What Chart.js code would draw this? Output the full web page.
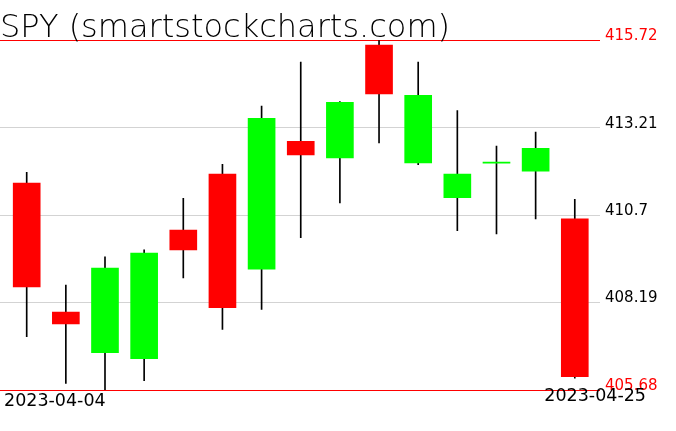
<!DOCTYPE html>
<html>
<head>
<meta charset="utf-8">
<script src="https://cdn.jsdelivr.net/npm/chart.js@4/dist/chart.umd.min.js"></script>
<style>
  html, body { margin: 0; padding: 0; background: #fff; }
  #wrap { width: 676px; height: 431px; }
</style>
</head>
<body>
<div id="wrap"><canvas id="chart"></canvas></div>
<script>
// SPY daily candles, April 2023
const dates  = ['2023-04-04','2023-04-05','2023-04-06','2023-04-10','2023-04-11',
                '2023-04-12','2023-04-13','2023-04-14','2023-04-17','2023-04-18',
                '2023-04-19','2023-04-20','2023-04-21','2023-04-24','2023-04-25'];
const opens  = [411.62, 407.92, 406.75, 406.58, 410.27, 411.88, 409.15, 412.82, 412.34, 415.58, 412.20, 411.20, 412.19, 411.96, 410.59];
const highs  = [411.93, 408.69, 409.50, 409.70, 411.18, 412.16, 413.83, 415.09, 413.96, 415.72, 415.09, 413.70, 412.68, 413.08, 411.15];
const lows   = [407.21, 405.87, 405.68, 405.95, 408.90, 407.42, 407.99, 410.05, 411.05, 412.77, 412.15, 410.25, 410.16, 410.59, 406.02];
const closes = [408.64, 407.58, 409.18, 409.61, 409.70, 408.04, 413.48, 412.43, 413.94, 414.18, 414.14, 411.88, 412.20, 412.62, 406.06];
const yTicks = [405.68, 408.19, 410.7, 413.21, 415.72];

const yMin = yTicks[0];
const yMax = yTicks[yTicks.length - 1];

const bodies = dates.map((d, i) => ({ x: i, y: [opens[i], closes[i]] }));
const wicks  = dates.map((d, i) => ({ x: i, y: [lows[i], highs[i]] }));
const bodyColors = dates.map((d, i) => closes[i] >= opens[i] ? '#00ff00' : '#ff0000');

// first and last date written under the plot
const dateLabels = {
    id: 'dateLabels',
    afterDraw(chart) {
        const { ctx, chartArea } = chart;
        ctx.save();
        ctx.font = '17.5px "DejaVu Sans"';
        ctx.fillStyle = '#000';
        ctx.textBaseline = 'middle';
        ctx.textAlign = 'left';
        ctx.fillText(dates[0], chartArea.left + 4, chartArea.bottom + 11);
        ctx.textAlign = 'right';
        ctx.fillText(dates[dates.length - 1], chartArea.right + 48, chartArea.bottom + 6);
        ctx.restore();
    }
};

new Chart(document.getElementById('chart'), {
    type: 'bar',
    data: {
        datasets: [{
            label: 'body',
            data: bodies,
            backgroundColor: bodyColors,
            barThickness: 27,
            minBarLength: 1,
            grouped: false,
            order: 0
        }, {
            label: 'wick',
            data: wicks,
            backgroundColor: '#000',
            barThickness: 1,
            grouped: false,
            order: 1
        }]
    },
    options: {
        responsive: true,
        maintainAspectRatio: false,
        animation: false,
        layout: { padding: { top: 2, left: 0, right: 0, bottom: 41 } },
        plugins: {
            legend: { display: false },
            tooltip: { enabled: false },
            title: {
                display: true,
                text: 'SPY (smartstockcharts.com)',
                align: 'start',
                color: '#000',
                font: { family: '"DejaVu Sans"', size: 32, weight: 200, lineHeight: 0.6 },
                padding: { top: 17, bottom: 2 }
            }
        },
        scales: {
            x: {
                type: 'linear',
                display: false,
                offset: false,
                min: -0.682,
                max: 14.593
            },
            y: {
                position: 'right',
                min: yMin,
                max: yMax,
                afterBuildTicks: scale => {
                    scale.ticks = yTicks.map(v => ({ value: v }));
                },
                afterFit: scale => { scale.width = 78; },
                border: { display: false },
                grid: {
                    color: ctx => (ctx.tick && (ctx.tick.value === yMin || ctx.tick.value === yMax)) ? '#ff0000' : '#d3d3d3',
                    lineWidth: 1,
                    tickLength: 2
                },
                ticks: {
                    padding: 5,
                    labelOffset: -4,
                    color: ctx => (ctx.tick.value === yMin || ctx.tick.value === yMax) ? '#ff0000' : '#000',
                    font: { family: '"DejaVu Sans"', size: 15 },
                    callback: v => String(+v.toFixed(2))
                }
            }
        }
    },
    plugins: [dateLabels]
});
</script>
</body>
</html>
